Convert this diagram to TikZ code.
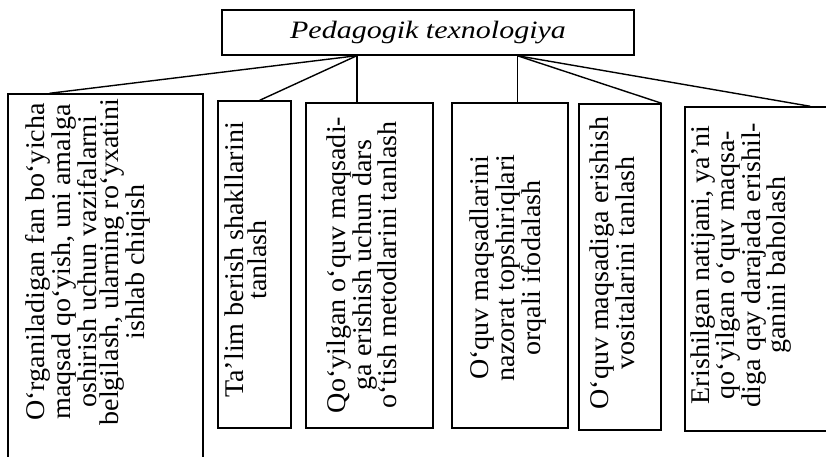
\documentclass[tikz,border=0pt]{standalone}
\usepackage{fontspec}
\setmainfont[FakeStretch=1.04]{Liberation Serif}
\newfontfamily\titlefont[FakeStretch=1.2]{Liberation Serif}
\usetikzlibrary{calc}

\begin{document}
\begin{tikzpicture}[x=1pt,y=-1pt,line width=1.4pt]
			\tikzstyle{frame} = [draw, inner sep=0pt]
			\tikzstyle{txt} = [rotate=90, align=center, inner sep=0pt, font=\fontsize{27}{22.8}\selectfont]
			\clip (0,0) rectangle (826,457);
			\node [frame, minimum width=412pt, minimum height=45pt, font=\fontsize{25}{22.5}\titlefont\itshape] (pt) at (428,32.5) {Pedagogik texnologiya};
			\node [frame, minimum width=195pt, minimum height=400pt] (b1) at (105.5,294) {};
			\node [frame, minimum width=73pt, minimum height=327pt] (b2) at (254.5,264.5) {};
			\node [frame, minimum width=127pt, minimum height=325pt] (b3) at (369.5,265.5) {};
			\node [frame, minimum width=116pt, minimum height=325pt] (b4) at (510,265.5) {};
			\node [frame, minimum width=82pt, minimum height=326pt] (b5) at (620,267) {};
			\node [frame, minimum width=175pt, minimum height=324pt] (b6) at (772.5,269) {};
			\coordinate (j1) at ($(pt.south west)!0.328!(pt.south east)$);
			\coordinate (j2) at ($(pt.south west)!0.716!(pt.south east)$);
			\draw (j1) -- ($(b1.north west)!0.215!(b1.north east)$);
			\draw (j1) -- ($(b2.north west)!0.57!(b2.north east)$);
			\draw (j1) -- (j1 |- b3.north);
			\draw (j2) -- (j2 |- b4.north);
			\draw (j2) -- (b5.north east);
			\draw (j2) -- ($(b6.north west)!0.714!(b6.north east)$);
			\node [txt] (t1) at (88,262) {O‘rganiladigan fan bo‘yicha\\maqsad qo‘yish, uni amalga\\oshirish uchun vazifalarni\\belgilash, ularning ro‘yxatini\\ishlab chiqish};
			\node [txt] (t2) at (246,260) {Ta’lim berish shakllarini\\tanlash};
			\node [txt] (t3) at (362,265) {Qo‘yilgan o‘quv maqsadi-\\ga erishish uchun dars\\o‘tish metodlarini tanlash};
			\node [txt] (t4) at (508,268) {O‘quv maqsadlarini\\nazorat topshiriqlari\\orqali ifodalash};
			\node [txt] (t5) at (612,263) {O‘quv maqsadiga erishish\\vositalarini tanlash};
			\node [txt] (t6) at (741,265) {Erishilgan natijani, ya’ni\\qo‘yilgan o‘quv maqsa-\\diga qay darajada erishil-\\ganini baholash};
		\end{tikzpicture}
\end{document}
